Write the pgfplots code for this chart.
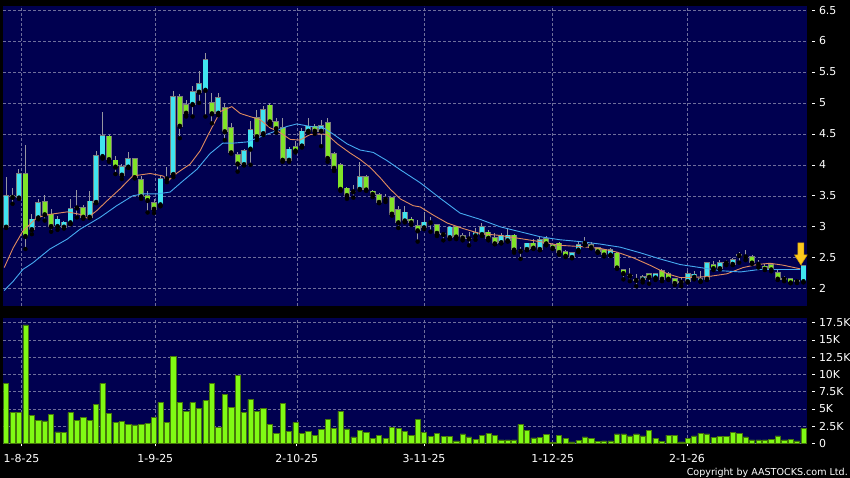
\documentclass[border=0pt]{standalone}
\usepackage{fontspec}
\setmainfont{DejaVu Sans}
\usepackage{pgfplots}
\usepackage{pgfplotstable}
\pgfplotsset{compat=1.18}

\definecolor{navy}{RGB}{0,0,80}
\definecolor{gridcol}{RGB}{110,110,155}
\definecolor{upcol}{RGB}{64,228,240}
\definecolor{dncol}{RGB}{128,228,40}
\definecolor{edgecol}{RGB}{125,125,125}
\definecolor{wickcol}{RGB}{150,150,160}
\definecolor{volfill}{RGB}{128,250,20}
\definecolor{voledge}{RGB}{70,120,10}
\definecolor{maone}{RGB}{225,140,95}
\definecolor{matwo}{RGB}{70,170,240}
\definecolor{arrowcol}{RGB}{250,200,30}

\newcommand\tickfont{\fontsize{11}{13}\selectfont}

% daily candles: index, open, high, low, close
\pgfplotstableread{
i o h l c
0 3.00 3.81 2.98 3.50
1 3.50 3.62 3.37 3.48
2 3.47 3.93 3.45 3.85
3 3.85 4.32 2.64 2.85
4 2.96 3.20 2.88 3.12
5 3.15 3.45 3.12 3.39
6 3.40 3.51 3.10 3.20
7 3.20 3.28 2.92 3.01
8 3.01 3.18 2.95 3.12
9 3.00 3.10 2.97 3.07
10 3.07 3.45 3.04 3.29
11 3.31 3.60 3.15 3.31
12 3.31 3.35 3.13 3.16
13 3.16 3.58 3.14 3.41
14 3.40 4.23 3.38 4.14
15 4.14 4.85 4.10 4.47
16 4.46 4.48 4.05 4.09
17 4.07 4.15 3.85 3.97
18 3.84 4.01 3.77 3.96
19 3.97 4.20 3.95 4.09
20 4.09 4.10 3.78 3.80
21 3.76 3.82 3.45 3.49
22 3.50 3.58 3.23 3.43
23 3.39 3.44 3.22 3.29
24 3.36 3.83 3.33 3.77
25 3.78 3.97 3.72 3.78
26 3.85 5.19 3.80 5.10
27 5.10 5.14 4.43 4.63
28 4.97 5.05 4.78 4.84
29 4.98 5.27 4.78 5.18
30 5.18 5.51 5.00 5.31
31 5.21 5.80 4.78 5.69
32 5.00 5.16 4.67 4.83
33 4.84 5.16 4.80 5.08
34 4.92 5.00 4.40 4.54
35 4.59 4.68 4.18 4.20
36 4.16 4.20 3.89 4.02
37 4.01 4.25 3.99 4.22
38 4.26 4.70 4.00 4.56
39 4.76 4.89 4.40 4.46
40 4.51 4.95 4.48 4.89
41 4.96 5.00 4.65 4.70
42 4.69 4.76 4.52 4.59
43 4.59 4.76 4.05 4.08
44 4.08 4.28 4.05 4.25
45 4.29 4.38 4.20 4.23
46 4.31 4.60 4.28 4.54
47 4.55 4.75 4.52 4.62
48 4.62 4.66 4.50 4.55
49 4.55 4.72 4.30 4.63
50 4.68 4.75 4.05 4.11
51 4.17 4.20 3.90 3.95
52 4.00 4.03 3.58 3.61
53 3.62 3.64 3.45 3.51
54 3.57 3.68 3.47 3.57
55 3.61 4.04 3.60 3.81
56 3.81 3.83 3.58 3.60
57 3.57 3.60 3.48 3.53
58 3.52 3.54 3.38 3.40
59 3.45 3.53 3.40 3.45
60 3.46 3.48 3.18 3.21
61 3.27 3.33 2.98 3.07
62 3.10 3.33 3.07 3.23
63 3.12 3.15 3.03 3.07
64 3.02 3.11 2.76 2.94
65 2.99 3.24 2.96 3.07
66 3.07 3.16 2.92 3.07
67 3.03 3.05 2.85 2.90
68 2.88 2.92 2.78 2.88
69 2.83 3.02 2.80 2.99
70 3.00 3.02 2.80 2.84
71 2.85 2.90 2.78 2.82
72 2.81 2.92 2.70 2.81
73 2.86 2.98 2.79 2.90
74 2.88 3.06 2.85 3.00
75 2.91 2.95 2.78 2.82
76 2.82 2.90 2.72 2.73
77 2.75 2.90 2.73 2.86
78 2.78 2.96 2.76 2.86
79 2.86 2.88 2.58 2.63
80 2.61 2.68 2.48 2.61
81 2.64 2.74 2.62 2.73
82 2.73 2.80 2.64 2.66
83 2.64 2.83 2.62 2.79
84 2.81 2.85 2.70 2.73
85 2.71 2.74 2.64 2.66
86 2.73 2.76 2.55 2.59
87 2.60 2.62 2.51 2.53
88 2.51 2.60 2.49 2.58
89 2.63 2.76 2.59 2.71
90 2.74 2.84 2.70 2.74
91 2.71 2.76 2.65 2.67
92 2.66 2.68 2.58 2.60
93 2.62 2.64 2.52 2.55
94 2.55 2.65 2.53 2.63
95 2.57 2.60 2.32 2.34
96 2.30 2.32 2.15 2.25
97 2.21 2.34 2.12 2.21
98 2.14 2.23 2.04 2.14
99 2.15 2.22 2.10 2.19
100 2.24 2.26 2.08 2.19
101 2.18 2.26 2.14 2.24
102 2.29 2.31 2.12 2.16
103 2.24 2.27 2.14 2.16
104 2.16 2.18 2.06 2.09
105 2.11 2.19 2.04 2.11
106 2.12 2.28 2.10 2.24
107 2.19 2.28 2.15 2.23
108 2.13 2.29 2.11 2.16
109 2.16 2.43 2.14 2.41
110 2.39 2.45 2.30 2.33
111 2.33 2.46 2.31 2.42
112 2.42 2.47 2.38 2.42
113 2.40 2.50 2.38 2.47
114 2.54 2.60 2.42 2.54
115 2.52 2.62 2.46 2.52
116 2.51 2.54 2.40 2.42
117 2.40 2.46 2.34 2.40
118 2.36 2.40 2.30 2.32
119 2.39 2.42 2.28 2.31
120 2.26 2.30 2.14 2.16
121 2.16 2.20 2.12 2.16
122 2.16 2.17 2.09 2.10
123 2.12 2.15 2.09 2.12
124 2.12 2.38 2.10 2.37
}\ohlc

% volume in thousands
\pgfplotstableread{
i v
0 8.7
1 4.45
2 4.54
3 17.2
4 4.06
5 3.38
6 3.24
7 4.2
8 1.64
9 1.55
10 4.45
11 3.29
12 3.77
13 3.38
14 5.66
15 8.7
16 4.3
17 3.09
18 3.14
19 2.76
20 2.66
21 2.76
22 2.9
23 3.77
24 5.9
25 3.0
26 12.6
27 5.9
28 4.64
29 5.9
30 5.08
31 6.19
32 8.7
33 2.32
34 7.06
35 5.17
36 9.9
37 4.45
38 6.38
39 4.6
40 5.03
41 2.76
42 1.45
43 5.8
44 1.74
45 3.0
46 1.45
47 1.7
48 1.2
49 2.0
50 3.5
51 2.2
52 4.64
53 2.08
54 0.92
55 1.84
56 1.55
57 0.73
58 1.16
59 0.73
60 2.32
61 2.22
62 1.74
63 1.2
64 3.48
65 1.6
66 0.97
67 1.4
68 0.97
69 0.97
70 0.34
71 1.35
72 0.92
73 0.58
74 1.2
75 1.45
76 1.2
77 0.48
78 0.48
79 0.48
80 2.76
81 1.84
82 0.77
83 0.82
84 1.3
85 0.15
86 1.1
87 0.68
88 0.2
89 0.44
90 0.92
91 0.68
92 0.24
93 0.34
94 0.34
95 1.35
96 1.35
97 1.06
98 1.35
99 1.06
100 1.84
101 0.73
102 0.24
103 1.2
104 1.16
105 0.2
106 0.68
107 1.06
108 1.45
109 1.35
110 0.87
111 0.97
112 0.97
113 1.55
114 1.45
115 0.92
116 0.48
117 0.48
118 0.48
119 0.58
120 1.06
121 0.48
122 0.58
123 0.34
124 2.18
}\vol

\pgfdeclareplotmark{darrow}{%
  \pgfpathmoveto{\pgfqpoint{0bp}{-11bp}}%
  \pgfpathlineto{\pgfqpoint{6.3bp}{-1bp}}%
  \pgfpathlineto{\pgfqpoint{3bp}{-1bp}}%
  \pgfpathlineto{\pgfqpoint{3bp}{11bp}}%
  \pgfpathlineto{\pgfqpoint{-3bp}{11bp}}%
  \pgfpathlineto{\pgfqpoint{-3bp}{-1bp}}%
  \pgfpathlineto{\pgfqpoint{-6.3bp}{-1bp}}%
  \pgfpathclose
  \pgfusepathqfillstroke
}

\pgfplotsset{
  chartbase/.style={
    anchor=south west, scale only axis, width=804bp,
    xmin=-0.44, xmax=124.6,
    axis background/.style={fill=navy},
    axis line style={draw=none},
    xtick={2.4,23.2,45.2,65,85,105.9},
    ytick pos=right, yticklabel pos=right,
    tick align=outside, major tick length=3bp,
    ytick style={white, line width=0.6bp, xshift=4.7bp},
    grid=major,
    major grid style={gridcol, line width=0.5bp, dash pattern=on 3bp off 2bp},
    every tick label/.append style={font=\tickfont, text=white},
    yticklabel style={anchor=west, inner sep=0pt, xshift=8.5bp},
  },
}

\begin{document}
\begin{tikzpicture}
\fill[black] (0bp,0bp) rectangle (850bp,478bp);

% price panel
\begin{axis}[chartbase,
  at={(3.3bp,172bp)}, height=300bp,
  ymin=1.72, ymax=6.565,
  xticklabels={}, xtick style={draw=none},
  ytick={2,2.5,...,6.5},
  yticklabels={2,2.5,3,3.5,4,4.5,5,5.5,6,6.5},
]
% wicks
\addplot[only marks, mark=none, error bars/.cd, y dir=plus, y explicit,
  error mark=none, error bar style={draw=wickcol, line width=1bp}]
  table[x=i, y=l, y error expr=\thisrow{h}-\thisrow{l}] {\ohlc};
% body outlines
\addplot[only marks, mark=none, error bars/.cd, y dir=plus, y explicit,
  error mark=none, error bar style={draw=edgecol, line width=5.8bp}]
  table[x=i, y expr={min(\thisrow{o},\thisrow{c})-0.013},
        y error expr={abs(\thisrow{c}-\thisrow{o})+0.026}] {\ohlc};
% rising bodies
\addplot[only marks, mark=none, restrict expr to domain={\thisrow{c}-\thisrow{o}}{0:10},
  error bars/.cd, y dir=plus, y explicit,
  error mark=none, error bar style={draw=upcol, line width=4.2bp}]
  table[x=i, y=o, y error expr=\thisrow{c}-\thisrow{o}] {\ohlc};
% falling bodies
\addplot[only marks, mark=none, restrict expr to domain={\thisrow{o}-\thisrow{c}}{0.001:10},
  error bars/.cd, y dir=plus, y explicit,
  error mark=none, error bar style={draw=dncol, line width=4.2bp}]
  table[x=i, y=c, y error expr=\thisrow{o}-\thisrow{c}] {\ohlc};
% moving averages
\addplot[maone, line width=0.9bp, mark=none] coordinates {
(-0.3,2.34) (1.1,2.66) (2.6,2.93) (3.7,3.04) (4.8,3.15) (6.8,3.20) (9.5,3.24)
(11.5,3.20) (12.6,3.14) (14.1,3.26) (15.7,3.42) (17.7,3.61) (19.7,3.82)
(22.4,3.86) (24.4,3.82) (25.3,3.75) (26.6,3.87) (28.6,4.01) (30.2,4.23)
(31.4,4.48) (33.3,4.86) (35.1,4.94) (36.4,4.83) (37.9,4.78) (39.5,4.73)
(41.0,4.60) (42.6,4.52) (44.2,4.41) (45.7,4.40) (47.3,4.49) (48.8,4.50)
(49.9,4.49) (51.5,4.34) (53.5,4.19) (55.0,4.09) (56.6,3.96) (58.1,3.80)
(59.7,3.61) (61.3,3.45) (63.3,3.34) (64.4,3.32) (66.4,3.19) (68.6,3.06)
(71.1,2.97) (73.7,2.89) (76.8,2.86) (79.9,2.81) (83.0,2.76) (86.1,2.70)
(89.3,2.68) (92.4,2.65) (95.0,2.59) (97.5,2.50) (100.1,2.38) (102.8,2.24)
(104.8,2.18) (106.8,2.18) (109.5,2.20) (112.1,2.24) (114.6,2.34)
(116.8,2.39) (118.8,2.41) (120.8,2.38) (123.5,2.32)
};
\addplot[matwo, line width=0.9bp, mark=none] coordinates {
(-0.3,1.97) (1.1,2.12) (2.6,2.31) (4.2,2.42) (6.8,2.64) (9.5,2.80)
(11.5,2.96) (14.6,3.15) (17.2,3.34) (19.7,3.50) (21.3,3.53) (23.5,3.53)
(25.5,3.56) (27.5,3.74) (29.7,3.93) (31.7,4.18) (33.7,4.35) (35.3,4.35)
(37.5,4.37) (39.5,4.45) (41.5,4.53) (43.7,4.62) (45.2,4.66) (47.3,4.62)
(49.3,4.60) (50.8,4.50) (53.0,4.34) (55.0,4.24) (57.1,4.20) (59.2,4.07)
(61.3,3.92) (64.4,3.71) (67.5,3.46) (70.6,3.22) (73.7,3.12) (76.8,3.00)
(79.9,2.92) (83.0,2.84) (86.1,2.79) (89.3,2.76) (92.4,2.72) (95.5,2.67)
(98.6,2.58) (101.7,2.48) (104.8,2.39) (108.0,2.34) (111.1,2.29)
(114.2,2.27) (117.2,2.31) (120.4,2.31) (123.5,2.31)
};
% latest-day marker
\addplot[only marks, mark=darrow, draw={rgb,255:red,205;green,150;blue,0},
  fill=arrowcol, line width=0.5bp] coordinates {(123.6,2.56)};
\end{axis}

% volume panel
\begin{axis}[chartbase,
  at={(3.3bp,34.7bp)}, height=125bp,
  ymin=0, ymax=18.14,
  xtick pos=bottom,
  xtick style={white, line width=0.6bp},
  xticklabels={1-8-25,1-9-25,2-10-25,3-11-25,1-12-25,2-1-26},
  xticklabel style={yshift=-5bp},
  ytick={0,2.5,...,17.5},
  yticklabels={0,2.5K,5K,7.5K,10K,12.5K,15K,17.5K},
  ybar, bar width=5.2bp,
]
\addplot[ybar, bar shift=0pt, fill=volfill, draw=voledge, line width=0.5bp]
  table[x=i, y=v] {\vol};
\end{axis}

\node[anchor=base east, text=white, font=\fontsize{9.6}{11}\selectfont, inner sep=0pt]
  at (848bp,2.5bp) {Copyright by AASTOCKS.com Ltd.};

\pgfresetboundingbox
\path[use as bounding box] (0bp,0bp) rectangle (850bp,478bp);
\end{tikzpicture}
\end{document}
